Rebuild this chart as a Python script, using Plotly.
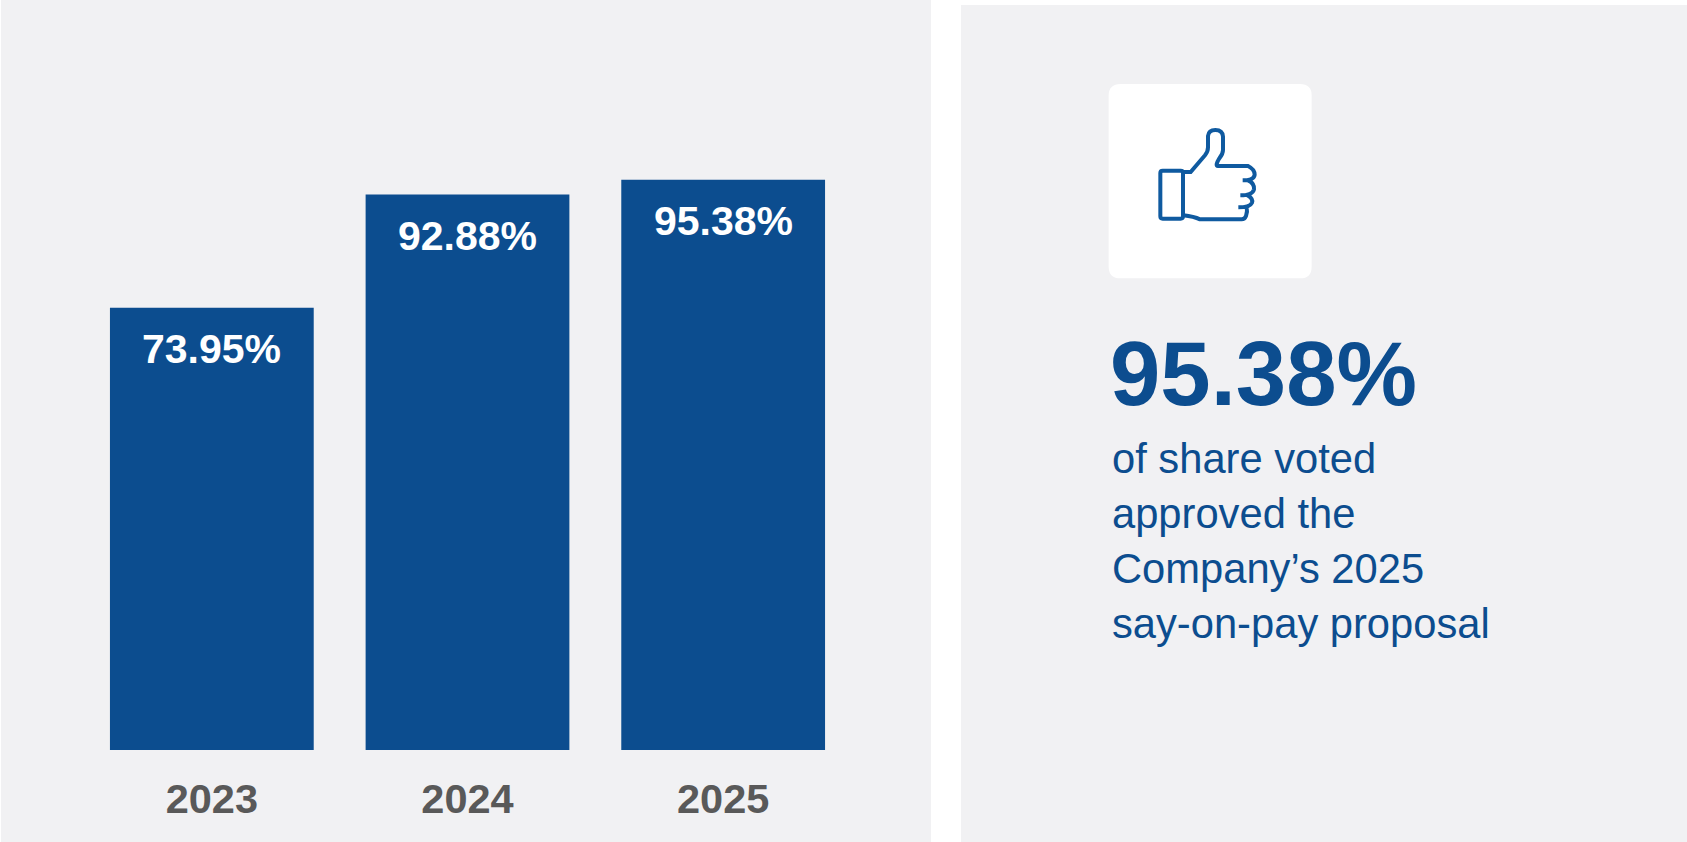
import plotly.graph_objects as go

W = 1687
H = 842

years = ["2023", "2024", "2025"]
approval = [73.95, 92.88, 95.38]

headline = "95.38%"
caption = ["of share voted", "approved the", "Company’s 2025", "say-on-pay proposal"]

BLUE = "#0C4D8F"
ICON = "#0F5AA0"
PANEL = "#F1F1F3"
GREY = "#595959"
FONT = "Liberation Sans, Arial, sans-serif"


# pixel position -> paper coordinates
def px(x):
    return x / W


def py(y):
    return 1 - y / H


def panel(x0, y0, x1, y1):
    return dict(type="rect", xref="paper", yref="paper", layer="below",
                x0=px(x0), y0=py(y0), x1=px(x1), y1=py(y1),
                fillcolor=PANEL, line=dict(width=0))


def zx(x):
    return px(1090 + x / 3)


def zy(y):
    return py(70 + y / 3)


def path(*parts):
    out = []
    for p in parts:
        cmd, nums = p[0], p[1:]
        pairs = [f"{zx(nums[i])},{zy(nums[i + 1])}" for i in range(0, len(nums), 2)]
        out.append(cmd + " " + " ".join(pairs))
    return " ".join(out)


def icon_shape(d, width=4):
    return dict(type="path", xref="paper", yref="paper", path=d,
                line=dict(color=ICON, width=width), fillcolor="rgba(0,0,0,0)")


card = path(("M", 92, 42), ("L", 630, 42), ("Q", 665, 42, 665, 77), ("L", 665, 590),
            ("Q", 665, 625, 630, 625), ("L", 92, 625), ("Q", 56, 625, 56, 590),
            ("L", 56, 77), ("Q", 56, 42, 92, 42)) + " Z"
cuff = path(("M", 218, 302), ("L", 272, 302), ("Q", 279, 302, 279, 309), ("L", 279, 439),
            ("Q", 279, 446, 272, 446), ("L", 218, 446), ("Q", 211, 446, 211, 439),
            ("L", 211, 309), ("Q", 211, 302, 218, 302)) + " Z"
hand = path(("M", 279, 306), ("L", 302, 306), ("L", 345, 256), ("Q", 354, 245, 354, 232),
            ("L", 354, 198), ("Q", 356, 180, 376, 180), ("Q", 398, 180, 399, 200),
            ("L", 399, 240), ("Q", 399, 252, 388, 265), ("Q", 374, 288, 384, 288),
            ("L", 474, 288), ("Q", 494, 298, 494, 314), ("Q", 492, 331, 458, 331),
            ("M", 474, 331), ("Q", 494, 340, 492, 358), ("Q", 488, 376, 451, 376),
            ("M", 472, 376), ("Q", 490, 386, 486, 398), ("Q", 480, 412, 445, 412),
            ("M", 470, 412), ("Q", 473, 425, 468, 438), ("Q", 464, 448, 455, 448),
            ("L", 330, 448), ("Q", 312, 440, 280, 436))

fig = go.Figure()

fig.add_trace(go.Bar(
    x=years,
    y=approval,
    marker=dict(color=BLUE, line=dict(width=0)),
    width=0.797,
    hoverinfo="x+y",
))

shapes = [
    panel(1, 0, 931, 842),
    panel(961, 5, 1687, 842),
    dict(type="path", xref="paper", yref="paper", layer="below", path=card,
         fillcolor="white", line=dict(width=0)),
    icon_shape(cuff),
    icon_shape(hand),
]

annotations = []
# value labels sit just under the top of each bar
# (category index, because a year string gets read as a number here)
for i, val in enumerate(approval):
    annotations.append(dict(
        x=i, y=val, xref="x", yref="y", text=f"{val:.2f}%", showarrow=False,
        yanchor="top", yshift=-16,
        font=dict(family=FONT, size=41, color="white", weight="bold"),
    ))

annotations.append(dict(
    x=px(1108), y=py(373), xref="paper", yref="paper", text=headline, showarrow=False,
    xanchor="left", yanchor="middle",
    font=dict(family=FONT, size=90.5, color=BLUE, weight="bold"),
))
for i, line in enumerate(caption):
    annotations.append(dict(
        x=px(1110), y=py(458 + 55 * i), xref="paper", yref="paper", text=line,
        showarrow=False, xanchor="left", yanchor="middle",
        font=dict(family=FONT, size=41.7, color=BLUE),
    ))

fig.update_layout(
    width=W,
    height=H,
    margin=dict(l=0, r=0, t=0, b=0),
    paper_bgcolor="white",
    plot_bgcolor="rgba(0,0,0,0)",
    showlegend=False,
    shapes=shapes,
    annotations=annotations,
    xaxis=dict(
        type="category",
        range=[-0.5, 2.5],
        automargin=False,
        domain=[px(84), px(851)],
        showgrid=False, zeroline=False, showline=False,
        ticks="", ticklabelstandoff=20,
        tickfont=dict(family=FONT, size=41.5, color=GREY, weight="bold"),
    ),
    yaxis=dict(
        domain=[py(750), py(152)],
        range=[0, 100],
        visible=False,
    ),
)

fig.write_html("out.html", post_script="document.body.style.margin='0';",
               config=dict(displayModeBar=False))
